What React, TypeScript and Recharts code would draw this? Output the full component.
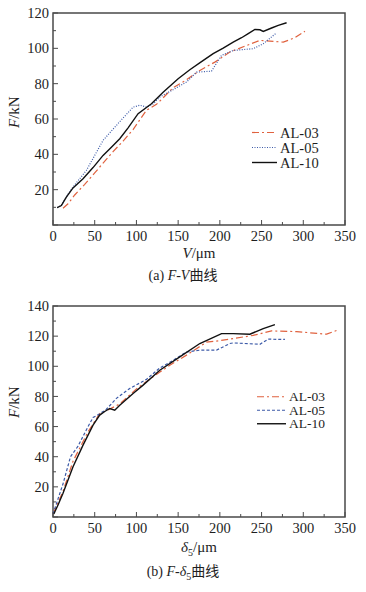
import React from 'react';
import { LineChart, Line, XAxis, YAxis, ReferenceArea } from 'recharts';

// ---------- Data: (a) F-V curves ----------
const AL03_V = [12, 18, 26, 38, 50, 60, 72, 84, 96, 104, 112, 124, 132, 144, 160, 176, 194, 212, 232, 248, 260, 276, 290, 302];
const AL03_F = [9.5, 12, 17, 23, 29.5, 35, 41.5, 47.5, 54, 59.5, 65, 68.3, 72, 77.7, 82.2, 87.5, 92.2, 97.9, 101.6, 104.5, 104.1, 103.5, 106, 109.7];
const AL05_V = [5, 10, 16, 24, 40, 60, 80, 96, 104, 112, 120, 128, 148, 160, 172, 190, 202, 216, 240, 252, 268];
const AL05_F = [9.8, 11, 16, 21.5, 30.9, 47.9, 58.5, 66.7, 67.8, 66.8, 68.5, 72.4, 77.7, 80.9, 86.5, 87.1, 96, 98.8, 99.8, 102.6, 108.8];
const AL10_V = [5, 10, 16, 24, 36, 48, 60, 70, 80, 90, 102, 118, 132, 150, 164, 178, 192, 204, 216, 226, 234, 242, 248, 252, 262, 270, 280];
const AL10_F = [9.8, 11, 15.8, 21, 26.2, 32.5, 39.4, 44, 48.8, 55, 63, 68.6, 75.2, 82.8, 87.9, 92.5, 97, 100.1, 103.5, 106, 108.3, 110.7, 110.5, 109.6, 111.5, 113, 114.5];

// ---------- Data: (b) F-δ5 curves ----------
const AL03_D = [0, 12, 24, 42, 56, 64, 80, 100, 120, 140, 160, 184, 200, 216, 240, 262, 292, 328, 342];
const AL03_F2 = [2, 17, 37, 56.5, 68.7, 70.5, 75, 85, 93, 100.7, 107.4, 116, 117, 118.4, 120.5, 123.5, 123, 121.3, 124.2];
const AL05_D = [0, 6, 12, 21, 30, 42, 48, 56, 64, 76, 92, 112, 128, 144, 160, 176, 196, 212, 216, 248, 258, 278];
const AL05_F2 = [2, 12, 22, 40, 47, 60, 66, 68.5, 71.5, 78.7, 85.3, 91.3, 98.9, 104, 109.5, 110.7, 110.7, 115.1, 115.5, 114.6, 118, 117.8];
const AL10_D = [1, 6, 12, 24, 36, 48, 56, 62, 68, 74, 80, 96, 108, 128, 152, 176, 202, 216, 236, 252, 266];
const AL10_F2 = [2, 8, 15.7, 33.3, 47.7, 61, 67.6, 70, 72, 70.9, 74.2, 82, 87.5, 97.4, 106.2, 115.1, 121.7, 121.7, 121.3, 125, 127.7];

const SERIES = ['AL-03', 'AL-05', 'AL-10'];
const X_TICKS = [0, 25, 50, 75, 100, 125, 150, 175, 200, 225, 250, 275, 300, 325, 350];
const Y_TICKS_A = [0, 10, 20, 30, 40, 50, 60, 70, 80, 90, 100, 110, 120];
const Y_TICKS_B = [0, 10, 20, 30, 40, 50, 60, 70, 80, 90, 100, 110, 120, 130, 140];

const zip = (xs: number[], ys: number[]) => xs.map((x, i) => ({ x, y: ys[i] }));

const FONT = '"Liberation Serif", Tinos, "Noto Sans CJK SC", serif';
const AXIS = '#4a4a4a';
const TEXT = '#1e1e1e';
const C03 = '#e0623f';
const C05 = '#3c5aa8';
const C10 = '#111';
const M = 4;

const XTick = (props: any) => {
  const { x, y, payload } = props;
  const v = payload.value;
  const major = v % 50 === 0;
  const ay = y - M;
  return (
    <g>
      <line x1={x} x2={x} y1={ay} y2={ay - (major ? 5 : 3)} stroke={AXIS} strokeWidth={1} />
      {major && (
        <text x={x} y={y} dy="0.8em" textAnchor="middle" fontSize={14.5} fill={TEXT} style={{ fontFamily: FONT }}>
          {v}
        </text>
      )}
    </g>
  );
};

const YTick = (props: any) => {
  const { x, y, payload } = props;
  const v = payload.value;
  const major = v % 20 === 0;
  const ax = x + M;
  return (
    <g>
      <line x1={ax} x2={ax + (major ? 5 : 3)} y1={y} y2={y} stroke={AXIS} strokeWidth={1} />
      {major && v !== 0 && (
        <text x={x} y={y} dy="0.35em" textAnchor="end" fontSize={14.5} fill={TEXT} style={{ fontFamily: FONT }}>
          {v}
        </text>
      )}
    </g>
  );
};

const LegendBox = ({ dash05, gap, lineW, left, top, fs }: { dash05: string; gap: number; lineW: number; left: number; top: number; fs: number }) => {
  const styles = [
    { c: C03, d: '7 3 2 3', w: 1.2 },
    { c: C05, d: dash05, w: 1.2 },
    { c: C10, d: undefined, w: 1.4 },
  ];
  return (
    <svg width={100} height={gap * 3} style={{ position: 'absolute', left, top, display: 'block' }}>
      {SERIES.map((s, i) => (
        <g key={s}>
          <line x1={0} x2={lineW} y1={gap / 2 + i * gap} y2={gap / 2 + i * gap} stroke={styles[i].c} strokeDasharray={styles[i].d} strokeWidth={styles[i].w} />
          <text x={lineW + 3} y={gap / 2 + i * gap} dy="0.35em" fontSize={fs} fill={TEXT} style={{ fontFamily: FONT }}>
            {s}
          </text>
        </g>
      ))}
    </svg>
  );
};

const sub5 = <span style={{ fontSize: 10, position: 'relative', top: 4 }}>5</span>;

export default function App() {
  return (
    <div style={{ position: 'absolute', left: 0, top: 0, width: 366, height: 592, background: '#fff', fontFamily: FONT, color: TEXT }}>
      {/* (a) F-V */}
      <div style={{ position: 'absolute', left: 0, top: 0 }}>
        <LineChart width={366} height={245} margin={{ top: 13, right: 21, left: 0, bottom: 0 }}>
          <XAxis type="number" dataKey="x" domain={[0, 350]} ticks={X_TICKS} interval={0} tickSize={0} tickMargin={M} tick={<XTick />} axisLine={false} height={20} allowDuplicatedCategory={false} />
          <YAxis type="number" dataKey="y" domain={[0, 120]} ticks={Y_TICKS_A} interval={0} tickSize={0} tickMargin={M} tick={<YTick />} axisLine={false} width={53} />
          <ReferenceArea x1={0} x2={350} y1={0} y2={120} fill="none" stroke={AXIS} strokeWidth={1.5} ifOverflow="visible" />
          <Line data={zip(AL03_V, AL03_F)} dataKey="y" name="AL-03" stroke={C03} strokeDasharray="7 3 2 3" strokeWidth={1.2} dot={false} isAnimationActive={false} />
          <Line data={zip(AL05_V, AL05_F)} dataKey="y" name="AL-05" stroke={C05} strokeDasharray="1 1.5" strokeWidth={1.2} dot={false} isAnimationActive={false} />
          <Line data={zip(AL10_V, AL10_F)} dataKey="y" name="AL-10" stroke={C10} strokeWidth={1.4} dot={false} isAnimationActive={false} />
        </LineChart>
      </div>
      <LegendBox dash05="1 1.5" gap={15} lineW={25} left={252} top={124.5} fs={14.5} />
      <div style={{ position: 'absolute', left: 4, top: 118, transform: 'translate(0,-50%) rotate(-90deg)', transformOrigin: 'center', fontSize: 15, whiteSpace: 'nowrap', width: 20, textAlign: 'center' }}>
        <span style={{ display: 'inline-block' }}><i>F</i>/kN</span>
      </div>
      <div style={{ position: 'absolute', left: 53, width: 292, top: 244, textAlign: 'center', fontSize: 15, lineHeight: '18px' }}>
        <i>V</i>/μm
      </div>
      <div style={{ position: 'absolute', left: 0, width: 366, top: 267, textAlign: 'center', fontSize: 14, lineHeight: '18px' }}>
        (a) <i>F</i>-<i>V</i>曲线
      </div>

      {/* (b) F-δ5 */}
      <div style={{ position: 'absolute', left: 0, top: 292 }}>
        <LineChart width={366} height={245} margin={{ top: 14, right: 21, left: 0, bottom: 0 }}>
          <XAxis type="number" dataKey="x" domain={[0, 350]} ticks={X_TICKS} interval={0} tickSize={0} tickMargin={M} tick={<XTick />} axisLine={false} height={20} allowDuplicatedCategory={false} />
          <YAxis type="number" dataKey="y" domain={[0, 140]} ticks={Y_TICKS_B} interval={0} tickSize={0} tickMargin={M} tick={<YTick />} axisLine={false} width={53} />
          <ReferenceArea x1={0} x2={350} y1={0} y2={140} fill="none" stroke={AXIS} strokeWidth={1.5} ifOverflow="visible" />
          <Line data={zip(AL03_D, AL03_F2)} dataKey="y" name="AL-03" stroke={C03} strokeDasharray="7 3 2 3" strokeWidth={1.2} dot={false} isAnimationActive={false} />
          <Line data={zip(AL05_D, AL05_F2)} dataKey="y" name="AL-05" stroke={C05} strokeDasharray="3 2" strokeWidth={1.2} dot={false} isAnimationActive={false} />
          <Line data={zip(AL10_D, AL10_F2)} dataKey="y" name="AL-10" stroke={C10} strokeWidth={1.4} dot={false} isAnimationActive={false} />
        </LineChart>
      </div>
      <LegendBox dash05="3 2" gap={13.5} lineW={29} left={257} top={390} fs={13.5} />
      <div style={{ position: 'absolute', left: 4, top: 408, transform: 'translate(0,-50%) rotate(-90deg)', transformOrigin: 'center', fontSize: 15, whiteSpace: 'nowrap', width: 20, textAlign: 'center' }}>
        <span style={{ display: 'inline-block' }}><i>F</i>/kN</span>
      </div>
      <div style={{ position: 'absolute', left: 53, width: 292, top: 538, textAlign: 'center', fontSize: 15, lineHeight: '18px' }}>
        <i>δ</i>{sub5}/μm
      </div>
      <div style={{ position: 'absolute', left: 0, width: 366, top: 563, textAlign: 'center', fontSize: 14, lineHeight: '18px' }}>
        (b) <i>F</i>-<i>δ</i>{sub5}曲线
      </div>
    </div>
  );
}
